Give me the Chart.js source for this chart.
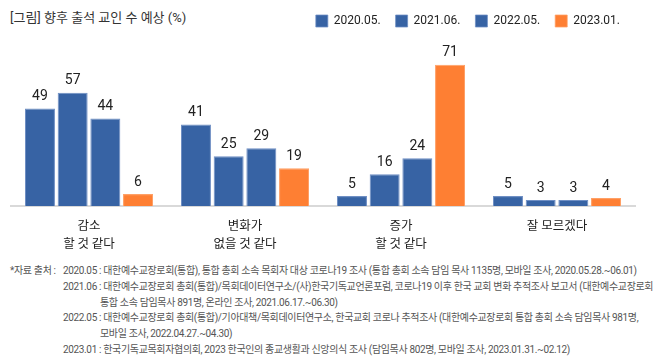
<!DOCTYPE html>
<html>
<head>
<meta charset="utf-8">
<script src="https://cdn.jsdelivr.net/npm/chart.js@4.4.1/dist/chart.umd.min.js"></script>
<style>
  html, body { margin: 0; padding: 0; background: #fff; }
  #wrap { position: relative; width: 670px; height: 358px; overflow: hidden; }
  #chartBox { position: absolute; left: 0; top: 0; width: 670px; height: 262px; }
  #title { position: absolute; left: 10px; top: 7px; font: 13px Roboto, "Noto Sans CJK KR", sans-serif; color: #333; }
  .note { position: absolute; white-space: nowrap; font: 10px Roboto, "Noto Sans CJK KR", sans-serif; color: #555; letter-spacing: -0.35px; line-height: 12px; }
</style>
</head>
<body>
<div id="wrap">
  <div id="title">[그림] 향후 출석 교인 수 예상 (%)</div>
  <div id="chartBox"><canvas id="chart"></canvas></div>
  <div id="notes"></div>
</div>
<script>
// 항목, 시점, 값
const categorias = [['감소', '할 것 같다'], ['변화가', '없을 것 같다'], ['증가', '할 것 같다'], ['잘 모르겠다']];
const series = ['2020.05.', '2021.06.', '2022.05.', '2023.01.'];
const v2020 = [49, 41, 5, 5];
const v2021 = [57, 25, 16, 3];
const v2022 = [44, 29, 24, 3];
const v2023 = [6, 19, 71, 4];

const AZUL = '#3763a4';
const NARANJA = '#fe7f33';

// footnote lines: [left, text]
const notas = [
  [10, '*자료 출처 :'],
  [63, '2020.05 : 대한예수교장로회(통합), 통합 총회 소속 목회자 대상 코로나19 조사 (통합 총회 소속 담임 목사 1135명, 모바일 조사, 2020.05.28.~06.01)'],
  [63, '2021.06 : 대한예수교장로회 총회(통합)/목회데이터연구소/(사)한국기독교언론포럼, 코로나19 이후 한국 교회 변화 추적조사 보고서 (대한예수교장로회'],
  [100, '통합 소속 담임목사 891명, 온라인 조사, 2021.06.17.~06.30)'],
  [63, '2022.05 : 대한예수교장로회 총회(통합)/기아대책/목회데이터연구소, 한국교회 코로나 추적조사 (대한예수교장로회 통합 총회 소속 담임목사 981명,'],
  [100, '모바일 조사, 2022.04.27.~04.30)'],
  [63, '2023.01 : 한국기독교목회자협의회, 2023 한국인의 종교생활과 신앙의식 조사 (담임목사 802명, 모바일 조사, 2023.01.31.~02.12)']
];
const filaNota = [0, 0, 1, 2, 3, 4, 5];

const notesEl = document.getElementById('notes');
notas.forEach((n, i) => {
  const d = document.createElement('div');
  d.className = 'note';
  d.style.left = n[0] + 'px';
  d.style.top = (265 + filaNota[i] * 15.8) + 'px';
  d.textContent = n[1];
  notesEl.appendChild(d);
});

const etiquetas = {
  id: 'etiquetas',
  afterDatasetsDraw(chart) {
    const ctx = chart.ctx;
    ctx.save();
    ctx.font = '14px Roboto, "Noto Sans CJK KR", sans-serif';
    ctx.fillStyle = '#222';
    ctx.textAlign = 'center';
    ctx.textBaseline = 'alphabetic';
    chart.data.datasets.forEach((ds, i) => {
      chart.getDatasetMeta(i).data.forEach((bar, j) => {
        ctx.fillText(String(ds.data[j]), bar.x, bar.y - 8.5);
      });
    });
    ctx.restore();
  }
};

function serie(label, data, color, borde) {
  return {
    label: label,
    data: data,
    backgroundColor: color,
    borderColor: borde,
    borderWidth: { top: 1, left: 1, right: 1, bottom: 0 },
    borderSkipped: 'bottom',
    categoryPercentage: 0.838,
    barPercentage: 0.917
  };
}

new Chart(document.getElementById('chart').getContext('2d'), {
  type: 'bar',
  data: {
    labels: categorias,
    datasets: [
      serie(series[0], v2020, AZUL, '#6f8fc4'),
      serie(series[1], v2021, AZUL, '#6f8fc4'),
      serie(series[2], v2022, AZUL, '#6f8fc4'),
      serie(series[3], v2023, NARANJA, '#ffa066')
    ]
  },
  options: {
    responsive: true,
    maintainAspectRatio: false,
    animation: false,
    layout: { padding: { left: 11, right: 35, top: 0, bottom: 0 } },
    plugins: {
      legend: {
        display: true,
        position: 'top',
        align: 'end',
        labels: {
          boxWidth: 12,
          boxHeight: 12,
          padding: 15,
          color: '#222',
          font: { family: 'Roboto, "Noto Sans CJK KR", sans-serif', size: 12 }
        }
      },
      tooltip: { enabled: false }
    },
    scales: {
      x: {
        grid: { display: false, drawTicks: false },
        border: { display: true, color: '#d9d9d9', width: 2 },
        ticks: {
          color: '#222',
          padding: 10,
          maxRotation: 0,
          font: { family: '"Noto Sans CJK KR", sans-serif', size: 12.5, lineHeight: 1.44 }
        }
      },
      y: { display: false, min: 0, max: 85 }
    }
  },
  plugins: [etiquetas]
});
</script>
</body>
</html>
